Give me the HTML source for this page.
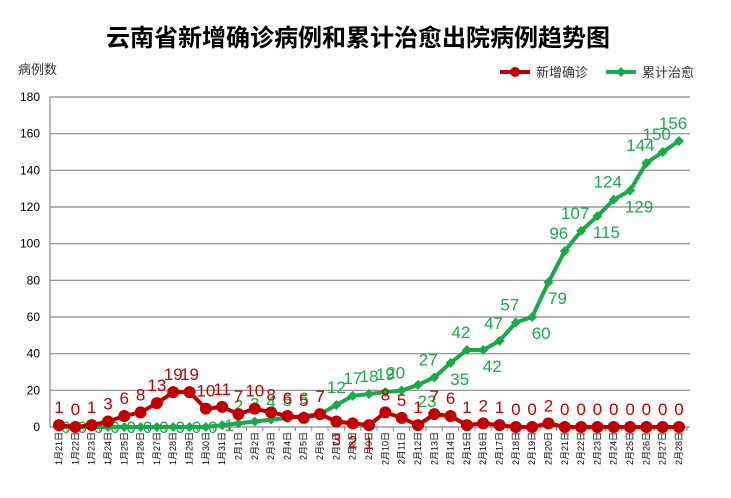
<!DOCTYPE html>
<html><head><meta charset="utf-8"><style>
body{margin:0;background:#fff;}
svg text{font-family:"Liberation Sans","Noto Sans CJK SC",sans-serif;}
</style></head><body>
<svg width="731" height="493" xmlns="http://www.w3.org/2000/svg" id="chart">
<text x="358" y="46" text-anchor="middle" font-size="24" font-weight="bold" fill="#000">云南省新增确诊病例和累计治愈出院病例趋势图</text>
<text x="18" y="74" font-size="13" fill="#333">病例数</text>
<g>
<g><line x1="500" y1="72" x2="530" y2="72" stroke="#c00000" stroke-width="4"/><circle cx="515" cy="72" r="5" fill="#c00000"/><text x="536" y="77" font-size="13" fill="#333">新增确诊</text></g>
<g><line x1="606" y1="72" x2="636" y2="72" stroke="#1aaa4a" stroke-width="4"/><path d="M621 67 L626 72 L621 77 L616 72Z" fill="#1aaa4a"/><text x="642" y="77" font-size="13" fill="#333">累计治愈</text></g>
</g>
<g id="grid"></g><g id="xaxis"></g><g id="series"></g>
</svg>
<script>
const categories=[];
for(let d=21;d<=31;d++)categories.push('1月'+d+'日');
for(let d=1;d<=28;d++)categories.push('2月'+d+'日');
const newCases=[1,0,1,3,6,8,13,19,19,10,11,7,10,8,6,5,7,3,2,1,8,5,1,7,6,1,2,1,0,0,2,0,0,0,0,0,0,0,0];
const cured=[0,0,0,0,0,0,0,0,0,0,1,2,3,4,5,6,7,12,17,18,19,20,23,27,35,42,42,47,57,60,79,96,107,115,124,129,144,150,156];
const yTicks=[0,20,40,60,80,100,120,140,160,180];
const curedBelow=new Set([22,24,26,29,30,33,35]);
const NS='http://www.w3.org/2000/svg';
const x0=59,x1=679,yb=427,yt=97,ymax=180;
const X=i=>x0+(x1-x0)*i/(categories.length-1);
const Y=v=>yb-(yb-yt)*v/ymax;
function mk(tag,attrs,parent){const e=document.createElementNS(NS,tag);for(const k in attrs)e.setAttribute(k,attrs[k]);parent.appendChild(e);return e;}
const grid=document.getElementById('grid'),xa=document.getElementById('xaxis'),ser=document.getElementById('series');
yTicks.forEach(t=>{
 const l=mk('line',{x1:50,x2:690,y1:Y(t),y2:Y(t),stroke:'#888','stroke-width':1.2},grid);
 
 
 const tx=mk('text',{x:40,y:Y(t)+4,'text-anchor':'end','font-size':12,fill:'#000'},grid);
 tx.textContent=t;
 
 
});
const ax=mk('line',{x1:50,x2:50,y1:yt,y2:yb,stroke:'#888','stroke-width':1.2},grid);


categories.forEach((c,i)=>{
 const tk=mk('line',{x1:X(i)+8,x2:X(i)+8,y1:yb,y2:yb+4,stroke:'#888'},xa);
 
 
 const t=mk('text',{x:0,y:0,'font-size':9,fill:'#000','text-anchor':'end',transform:`translate(${X(i)+3},${yb+5}) rotate(-90)`},xa);
 t.textContent=c;
 
 
});
function drawSeries(vals,color,marker,name){
 const pl=mk('polyline',{points:vals.map((v,i)=>X(i)+','+Y(v)).join(' '),fill:'none',stroke:color,'stroke-width':4,'stroke-linejoin':'round'},ser);
 
 
 vals.forEach((v,i)=>{
  let m;
  if(marker==='circle')m=mk('circle',{cx:X(i),cy:Y(v),r:6,fill:color},ser);
  else{const x=X(i),y=Y(v);m=mk('path',{d:`M${x} ${y-5}L${x+5} ${y}L${x} ${y+5}L${x-5} ${y}Z`,fill:color},ser);}
  
  
 });
 vals.forEach((v,i)=>{
  let dy=-12,dx=0;
  if(name==='cured'){
   if(i<11){dy=6;dx=7;}
   else if(curedBelow.has(i)){dy=22;dx=9;}
   else if(i>=21){dx=-6;}
  }
  if(name==='new'&&i>=17&&i<=19){dy=24;}
  const t=mk('text',{x:X(i)+dx,y:Y(v)+dy,'text-anchor':'middle','font-size':17,fill:color},ser);
  t.textContent=v;
  
  
 });
}
drawSeries(cured,'#1aaa4a','diamond','cured');
drawSeries(newCases,'#c00000','circle','new');
</script>
</body></html>
